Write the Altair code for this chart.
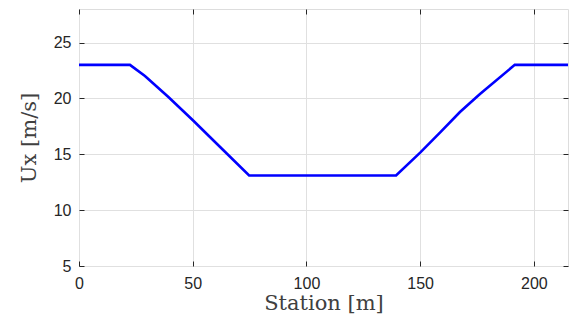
import altair as alt
import pandas as pd

station = [0, 22.4, 29.0, 39.3, 50.3, 59.8, 74.8, 139.4, 150.0, 158.7, 167.5, 176.3, 191.6, 215]
ux = [23.0, 23.0, 22.0, 20.12, 18.0, 16.1, 13.1, 13.1, 15.15, 16.93, 18.78, 20.4, 23.0, 23.0]
x_ticks = [0, 50, 100, 150, 200]
y_ticks = [5, 10, 15, 20, 25]

df = pd.DataFrame({"station": station, "ux": ux})

xscale = alt.Scale(domain=[0, 215], nice=False, zero=False)
yscale = alt.Scale(domain=[5, 28], nice=False, zero=False)

TXT = "#262626"

main = alt.Chart(df).mark_line(color="#0000ff", strokeWidth=2.6).encode(
    x=alt.X("station:Q", scale=xscale,
            axis=alt.Axis(values=x_ticks, title="Station [m]", orient="bottom",
                          domain=False, offset=-5, tickSize=5, tickColor=TXT,
                          labelPadding=9, labelFont="Liberation Sans", labelFontSize=16,
                          labelColor=TXT, labelFlush=False, labelOverlap=False,
                          titleFont="DejaVu Serif", titleFontSize=21,
                          titleFontWeight="normal", titleColor="#404040", titlePadding=1,
                          grid=True, gridColor="#e0e0e0", gridWidth=1)),
    y=alt.Y("ux:Q", scale=yscale,
            axis=alt.Axis(values=y_ticks, title="Ux [m/s]", orient="left",
                          domain=False, offset=-5, tickSize=5, tickColor=TXT,
                          labelPadding=8, labelFont="Liberation Sans", labelFontSize=16,
                          labelColor=TXT, labelFlush=False, labelOverlap=False,
                          titleFont="DejaVu Serif", titleFontSize=21,
                          titleFontWeight="normal", titleColor="#404040", titlePadding=14,
                          grid=True, gridColor="#e0e0e0", gridWidth=1)),
)

frame_axes = alt.Chart(df).mark_line(opacity=0).encode(
    x=alt.X("station:Q", scale=xscale,
            axis=alt.Axis(values=x_ticks, title=None, orient="top", labels=False,
                          domain=False, offset=-5, tickSize=5, tickColor=TXT, grid=False)),
    y=alt.Y("ux:Q", scale=yscale,
            axis=alt.Axis(values=y_ticks, title=None, orient="right", labels=False,
                          domain=False, offset=-5, tickSize=5, tickColor=TXT, grid=False)),
)

chart = alt.layer(main, frame_axes).resolve_axis(x="independent", y="independent").properties(
    width=489, height=257,
    autosize=alt.AutoSizeParams(type="none"),
    padding={"left": 79, "top": 9, "right": 5, "bottom": 56},
).configure_view(stroke="#262626", strokeWidth=1).configure(background="white")

chart.save("out.html", embed_options={"renderer": "svg", "actions": False})
